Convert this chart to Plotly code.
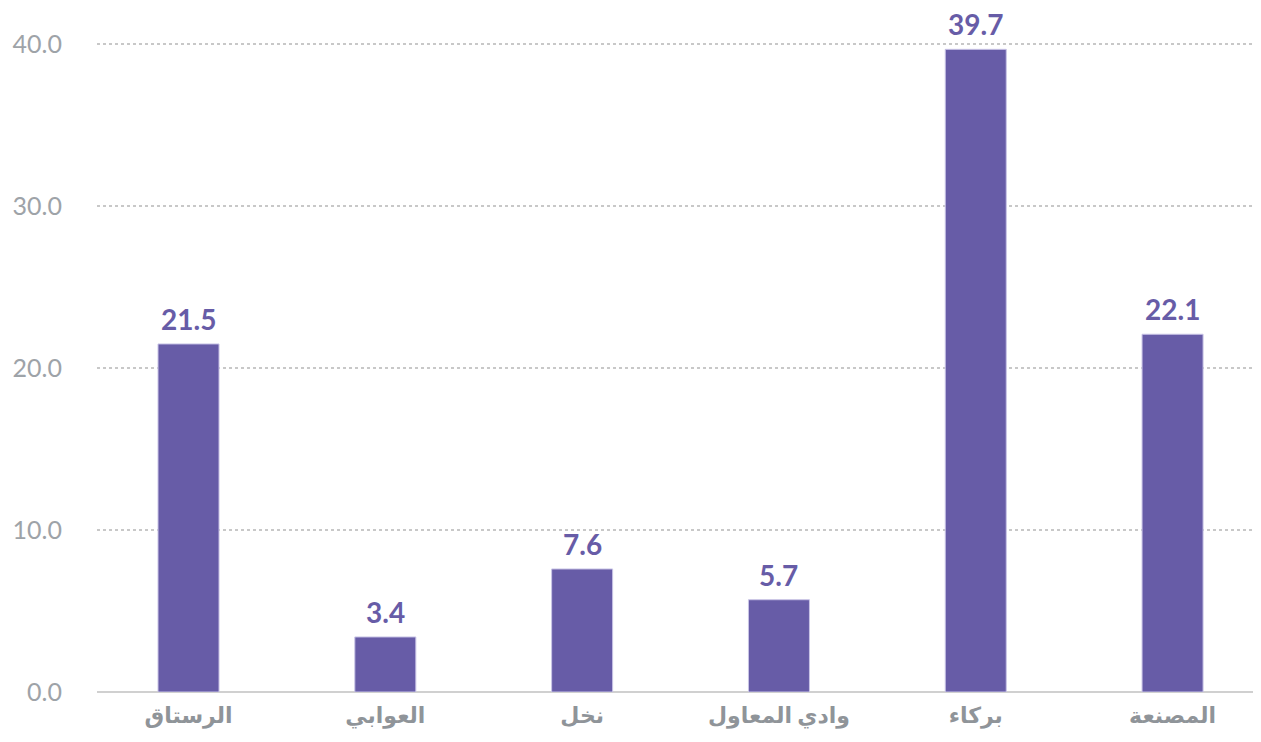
import plotly.graph_objects as go

categories = ["الرستاق", "العوابي", "نخل", "وادي المعاول", "بركاء", "المصنعة"]
values = [21.5, 3.4, 7.6, 5.7, 39.7, 22.1]
y_ticks = [0, 10, 20, 30, 40]
y_tick_labels = ["0.0", "10.0", "20.0", "30.0", "40.0"]

bar_color = "#675CA7"
font_family = "Lato, 'DejaVu Sans', sans-serif"

x_pos = list(range(len(categories)))

fig = go.Figure()
fig.add_trace(go.Bar(
    x=x_pos,
    y=values,
    width=0.31,
    marker=dict(color=bar_color, line=dict(color="#c9c4e6", width=1)),
    cliponaxis=False,
    hoverinfo="skip",
))

for xi, v in zip(x_pos, values):
    fig.add_annotation(
        x=xi, y=v, xref="x", yref="y",
        text=f"{v:.1f}", showarrow=False,
        yanchor="bottom", xanchor="center", yshift=6,
        font=dict(family=font_family, size=28, color=bar_color, weight="bold"),
    )

fig.update_layout(
    width=1253, height=734,
    margin=dict(l=89, r=4, t=29.5, b=50, autoexpand=False),
    plot_bgcolor="white", paper_bgcolor="white",
    showlegend=False,
    font=dict(family=font_family),
)
fig.update_xaxes(
    range=[-0.465, 5.429],
    tickmode="array",
    tickvals=x_pos,
    ticktext=categories,
    tickfont=dict(family=font_family, size=22, color="#8f9499", weight="bold"),
    ticklabelstandoff=8,
    automargin=False,
    showgrid=False,
    showline=False,
    ticks="",
    zeroline=False,
)
fig.update_yaxes(
    range=[0, 40.4],
    tickmode="array",
    tickvals=y_ticks,
    ticktext=y_tick_labels,
    tickfont=dict(family=font_family, size=25, color="#9ea3a8"),
    ticklabelstandoff=34,
    automargin=False,
    showgrid=True,
    gridcolor="#c8c8c8",
    griddash="dot",
    gridwidth=1.5,
    zeroline=True,
    zerolinecolor="#d0d0d0",
    zerolinewidth=2,
    showline=False,
    ticks="",
)

fig.write_html("out.html")
